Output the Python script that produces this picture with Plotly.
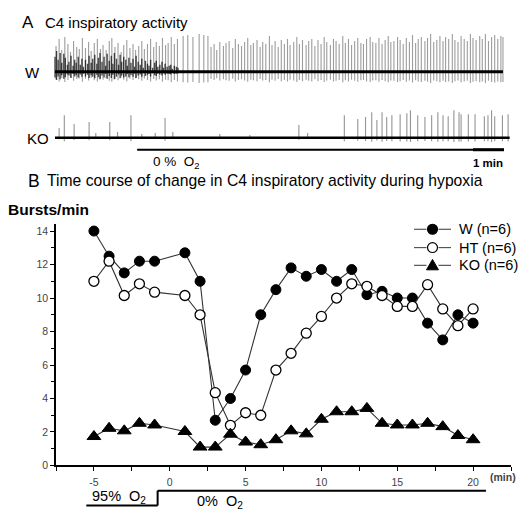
import plotly.graph_objects as go

# ---------------- Panel B data (bursts/min) ----------------
minutes = [-5, -4, -3, -2, -1, 1, 2, 3, 4, 5, 6, 7, 8, 9, 10, 11, 12, 13, 14, 15, 16, 17, 18, 19, 20]
w_bursts = [14.0, 12.5, 11.5, 12.2, 12.2, 12.7, 11.0, 2.7, 4.0, 5.7, 9.0, 10.5, 11.8, 11.3, 11.7,
            11.0, 11.7, 10.2, 10.4, 10.0, 10.0, 8.5, 7.5, 9.0, 8.5]
ht_bursts = [11.0, 12.2, 10.15, 10.85, 10.35, 10.15, 9.0, 4.35, 2.4, 3.15, 3.0, 5.7, 6.7, 7.9, 8.9,
             10.0, 10.85, 10.7, 10.15, 9.5, 9.5, 10.8, 9.35, 8.35, 9.35]
ko_bursts = [1.73, 2.22, 2.07, 2.52, 2.42, 2.03, 1.1, 1.1, 1.87, 1.4, 1.24, 1.54, 2.07, 1.89, 2.76,
             3.21, 3.21, 3.41, 2.52, 2.42, 2.42, 2.52, 2.32, 1.79, 1.54]
series_names = ["W (n=6)", "HT (n=6)", "KO (n=6)"]
o2_step_min = -0.8
o2_bar_start_min = -5.5
o2_bar_end_min = 20.85

# ---------------- Panel A data (C4 recordings, time in s, amplitude arb. units) ----------------
w_dense_t = [0, 3, 6, 10, 13, 17, 20, 24, 27, 31, 35, 38, 41, 45, 49, 52, 55, 59, 63, 66, 70, 73,
             77, 81, 84, 87, 91, 95, 98, 101, 105, 109, 112, 115, 119, 123, 126, 129, 133, 137,
             140, 143, 147, 151, 154, 157, 161, 165, 168, 171, 175, 179, 182, 185, 189, 193, 196,
             199, 203, 207, 210, 213, 217, 221, 224, 227, 231, 235, 238]
w_dense_amp = [15, 21, 12, 19, 9, 18, 14, 7, 10, 16, 6, 12, 9, 15, 7, 13, 5, 12, 8, 16, 9, 13,
               17, 8, 14, 19, 10, 15, 6, 18, 11, 16, 8, 19, 13, 7, 17, 10, 15, 12, 6, 14, 9,
               13, 5, 16, 10, 7, 13, 4, 11, 8, 6, 12, 4, 9, 11, 5, 7, 10, 4, 8, 5, 6, 7,
               3, 6, 5, 4]
w_spike_t = [2, 8, 13, 19, 25, 30, 36, 42, 47, 53, 59, 65, 70, 76, 82, 88, 93, 99, 105, 110, 116,
             122, 128, 133, 139, 145, 151, 156, 162, 168, 173, 179, 185, 191, 196, 202, 208, 214,
             219, 225, 231, 237,
             248, 257, 267, 279, 288, 296,
             302, 308, 313, 319, 326, 331, 337, 344, 349, 355, 361, 367, 373, 379, 384, 391, 397,
             402, 408, 415, 420, 426, 432, 438, 444, 450, 455, 462, 468, 473, 479, 486, 491, 497,
             503, 509, 515, 521, 526, 533, 539, 544, 550, 557, 562, 568, 574, 580, 586, 592, 597,
             603, 610, 615, 621, 627, 633, 639, 645, 650, 656, 663, 668, 674, 680, 686, 692, 698,
             703, 709, 716, 721, 727, 733, 739, 745, 751, 756, 762, 769, 774, 780, 786, 792, 798,
             804, 809, 815, 822, 827, 833, 839, 845, 851, 857, 863, 867]
w_spike_amp = [26, 33, 22, 35, 28, 20, 31, 25, 23, 34, 24, 30, 21, 29, 33, 23, 27, 22, 31, 34, 25,
               29, 20, 27, 32, 24, 28, 22, 26, 31, 23, 28, 33, 25, 30, 26, 34, 27, 29, 35, 28, 33,
               36, 37, 35, 38, 37, 36,
               25, 28, 22, 30, 26, 29, 31, 24, 33, 28, 26, 30, 34, 27, 29, 32, 25, 30, 28, 36, 27,
               31, 25, 32, 28, 33, 27, 30, 35, 28, 32, 27, 31, 33, 26, 32, 28, 35, 30, 27, 33, 31,
               28, 36, 29, 33, 27, 31, 34, 29, 28, 33, 35, 30, 29, 34, 28, 32, 36, 30, 31, 35, 32,
               28, 34, 30, 37, 29, 33, 35, 31, 34, 38, 30, 32, 36, 31, 35, 33, 38, 32, 30, 36, 33,
               31, 38, 34, 32, 36, 33, 38, 31, 35, 37, 33, 36, 35, 32, 36, 33, 37]
ko_spike_t = [8, 18, 37, 66, 79, 106, 121, 147, 168, 194, 213, 228, 319, 377, 472, 489, 560, 586,
              601, 613, 623, 633, 642, 652, 668, 681, 688, 702, 716, 729, 741, 751, 761, 772,
              782, 786, 800, 813, 831, 838, 845, 851, 866, 877]
ko_spike_amp = [10, 23, 14, 16, 5, 16, 6, 23, 4, 5, 20, 6, 4, 3, 13, 5, 23, 19, 21, 26, 18, 26, 21,
                23, 24, 25, 28, 23, 21, 23, 26, 23, 22, 28, 26, 24, 24, 24, 22, 23, 28, 22, 23, 24]
trace_end_s = [867, 880]
hypoxia_start_s = 159
hypoxia_end_s = 869
scale_bar_s = 60

W, H = 532, 513
FONT = "Liberation Sans"


def px(x):
    return x / W


def py(y):
    return 1 - y / H


def spike_xy(ts, amps, neg):
    xs, ys = [], []
    for t, a in zip(ts, amps):
        xs += [t, t, None]
        ys += [-neg * a, a, None]
    return xs, ys


fig = go.Figure()

# ---- recordings ----
xs, ys = spike_xy(w_spike_t, w_spike_amp, 0.3)
fig.add_trace(go.Scatter(x=xs, y=ys, mode="lines", xaxis="x2", yaxis="y2", showlegend=False,
                         line=dict(color="rgba(60,60,60,0.5)", width=1.1), hoverinfo="skip"))
xs, ys = spike_xy(w_dense_t, w_dense_amp, 0.4)
fig.add_trace(go.Scatter(x=xs, y=ys, mode="lines", xaxis="x2", yaxis="y2", showlegend=False,
                         line=dict(color="rgba(0,0,0,0.7)", width=1.4), hoverinfo="skip"))
fig.add_trace(go.Scatter(x=[0, trace_end_s[0]], y=[0, 0], mode="lines", xaxis="x2", yaxis="y2",
                         showlegend=False, line=dict(color="black", width=3), hoverinfo="skip"))
xs, ys = spike_xy(ko_spike_t, ko_spike_amp, 0.15)
fig.add_trace(go.Scatter(x=xs, y=ys, mode="lines", xaxis="x2", yaxis="y3", showlegend=False,
                         line=dict(color="rgba(60,60,60,0.55)", width=1.1), hoverinfo="skip"))
fig.add_trace(go.Scatter(x=[0, trace_end_s[1]], y=[0, 0], mode="lines", xaxis="x2", yaxis="y3",
                         showlegend=False, line=dict(color="black", width=2.5), hoverinfo="skip"))

# ---- time course ----
line_style = dict(color="#333333", width=1.1)
marker_styles = [
    dict(symbol="circle", size=10, color="black", line=dict(color="black", width=1)),
    dict(symbol="circle", size=10, color="white", line=dict(color="black", width=1.3)),
    dict(symbol="triangle-up", size=12, color="black", line=dict(color="black", width=1)),
]
for name, vals, mk in zip(series_names, [w_bursts, ht_bursts, ko_bursts], marker_styles):
    fig.add_trace(go.Scatter(x=minutes, y=vals, mode="lines+markers", name=name,
                             line=line_style, marker=mk, showlegend=False))

xt = [-7.5 + 2.5 * i for i in range(13)]
xtt = [("%d" % v) if (v % 5 == 0 and -5 <= v <= 20) else "" for v in xt]

fig.update_layout(
    width=W, height=H, margin=dict(l=0, r=0, t=0, b=0),
    paper_bgcolor="white", plot_bgcolor="white",
    font=dict(family=FONT, color="black"),
    xaxis=dict(domain=[px(56), px(511)], range=[-7.5, 22.5], showgrid=False, zeroline=False,
               showline=True, linecolor="black", linewidth=1.5, ticks="outside", ticklen=4,
               tickcolor="black", tickvals=xt, ticktext=xtt, ticklabelstandoff=2,
               tickfont=dict(size=10.5, color="#444444", family=FONT), anchor="y"),
    yaxis=dict(domain=[py(471), py(227)], range=[0, 14.4], showgrid=False, zeroline=False,
               showline=True, linecolor="black", linewidth=1.5, ticks="outside", ticklen=4,
               tickcolor="black", tickvals=[0, 2, 4, 6, 8, 10, 12, 14],
               minor=dict(tickvals=[1, 3, 5, 7, 9, 11, 13], ticks="outside", ticklen=3,
                          tickcolor="black"),
               tickfont=dict(size=10.5, color="#444444", family=FONT), anchor="x"),
    xaxis2=dict(domain=[0, 1], range=[-55 * 60 / 31, (W - 55) * 60 / 31], visible=False,
                anchor="y2"),
    yaxis2=dict(domain=[py(95), py(25)], range=[-22.5, 47.5], visible=False, anchor="x2"),
    yaxis3=dict(domain=[py(150), py(100)], range=[-10.5, 39.5], visible=False, anchor="x2"),
    showlegend=False,
)

# shapes
shapes = [
    dict(type="line", xref="x2", yref="paper", x0=hypoxia_start_s, x1=hypoxia_end_s,
         y0=py(151.5), y1=py(151.5), line=dict(color="black", width=2)),
    dict(type="line", xref="x2", yref="paper", x0=hypoxia_end_s - scale_bar_s, x1=hypoxia_end_s,
         y0=py(151.5), y1=py(151.5), line=dict(color="black", width=3)),
    dict(type="line", xref="x", yref="paper", x0=o2_bar_start_min, x1=o2_step_min,
         y0=py(511.5), y1=py(511.5), line=dict(color="black", width=2)),
    dict(type="line", xref="x", yref="paper", x0=o2_step_min, x1=o2_step_min,
         y0=py(511.5), y1=py(496.5), line=dict(color="black", width=2)),
    dict(type="line", xref="x", yref="paper", x0=o2_step_min, x1=o2_bar_end_min,
         y0=py(496.5), y1=py(496.5), line=dict(color="black", width=2)),
]

# manual legend (key only)
leg_rows = [232, 250.5, 268.5]
lx0, lx1, lxc = 414, 451, 432.5
for i, row in enumerate(leg_rows):
    shapes.append(dict(type="line", xref="paper", yref="paper", x0=px(lx0), x1=px(lxc - 6),
                       y0=py(row), y1=py(row), line=dict(color="#555555", width=1.2)))
    shapes.append(dict(type="line", xref="paper", yref="paper", x0=px(lxc + 6), x1=px(lx1),
                       y0=py(row), y1=py(row), line=dict(color="#555555", width=1.2)))
    if i < 2:
        shapes.append(dict(type="circle", xref="paper", yref="paper",
                           x0=px(lxc - 5), x1=px(lxc + 5), y0=py(row + 5), y1=py(row - 5),
                           fillcolor="black" if i == 0 else "white",
                           line=dict(color="black", width=1.2)))
    else:
        path = "M %f %f L %f %f L %f %f Z" % (px(lxc - 6), py(row + 4.5), px(lxc + 6),
                                               py(row + 4.5), px(lxc), py(row - 6))
        shapes.append(dict(type="path", xref="paper", yref="paper", path=path,
                           fillcolor="black", line=dict(color="black", width=1)))
fig.update_layout(shapes=shapes)


def label(text, x, y, size, anchor="left", bold=False, xref="paper", color="black"):
    if bold:
        text = "<b>" + text + "</b>"
    fig.add_annotation(text=text, x=x, y=y, xref=xref, yref="paper", xanchor=anchor,
                       yanchor="middle", showarrow=False,
                       font=dict(size=size, family=FONT, color=color))


for i, row in enumerate(leg_rows):
    label(series_names[i], px(457), py(row), 14.5)

label("A", px(20), py(23), 17)
label("C4 inspiratory activity", px(43), py(23), 15)
label("W", px(23), py(73), 15)
label("KO", px(25), py(140), 15)
label("0 %  O<sub>2</sub>", px(151), py(164), 13.5)
label("1 min", px(471), py(165), 11.5, bold=True)
label("B", px(26), py(183), 17.5)
label("Time course of change in C4 inspiratory activity during hypoxia", px(45), py(183), 15.7)
label("Bursts/min", px(6), py(212), 15.5, bold=True)
label("(min)", 22.0, py(483), 10.5, anchor="center", bold=True, xref="x", color="#444444")
label("95%  O<sub>2</sub>", px(90), py(503), 14.5)
label("0%  O<sub>2</sub>", px(195), py(508), 14.5)

fig.write_html("out.html", config={"displayModeBar": False},
               post_script="document.body.style.margin='0';")
